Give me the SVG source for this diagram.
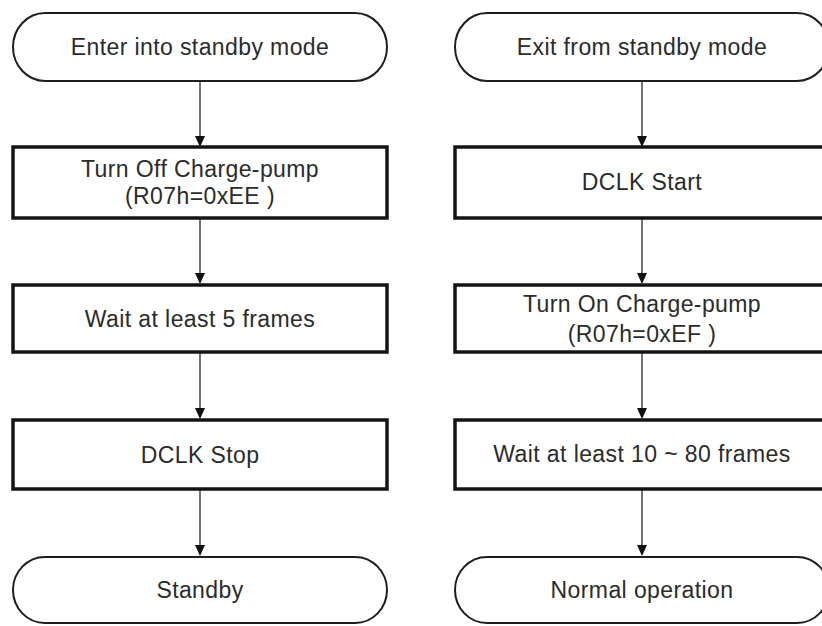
<svg xmlns="http://www.w3.org/2000/svg" width="822" height="626" viewBox="0 0 822 626">
  <style>
    .term { fill: #ffffff; stroke: #1e1e1e; stroke-width: 2; }
    .box { fill: #ffffff; stroke: #141414; stroke-width: 3.5; }
    .conn { stroke: #2a2a2a; stroke-width: 1.3; fill: none; }
    .head { fill: #111111; }
    .lbl { font-family: "Liberation Sans", Arial, sans-serif; font-size: 23px; letter-spacing: 0.4px; fill: #2b2b2b; text-anchor: middle; }
  </style>
  <defs>
    <path id="head" class="head" d="M-5,-11 L5,-11 L0,0 Z"/>
  </defs>
  <rect width="822" height="626" fill="#ffffff"/>

  <!-- connectors: vertical lines with arrowheads at the lower node -->
  <g id="connectors">
    <path class="conn" d="M200,81 V140 M200,218 V278 M200,352 V412 M200,489 V550"/>
    <path class="conn" d="M642,81 V140 M642,218 V278 M642,352 V412 M642,489 V550"/>
    <use href="#head" x="200" y="147"/>
    <use href="#head" x="200" y="284"/>
    <use href="#head" x="200" y="419"/>
    <use href="#head" x="200" y="556"/>
    <use href="#head" x="642" y="147"/>
    <use href="#head" x="642" y="284"/>
    <use href="#head" x="642" y="419"/>
    <use href="#head" x="642" y="556"/>
  </g>

  <!-- left flow: entering standby -->
  <g id="enter-standby">
    <rect class="term" x="13" y="13" width="374" height="68" rx="32" ry="34"/>
    <text class="lbl" x="200" y="55">Enter into standby mode</text>
  </g>
  <g id="charge-pump-off">
    <rect class="box" x="13" y="147" width="374" height="71"/>
    <text class="lbl" x="200" y="177">Turn Off Charge-pump</text>
    <text class="lbl" x="200" y="204">(R07h=0xEE )</text>
  </g>
  <g id="wait-5">
    <rect class="box" x="13" y="285" width="374" height="67"/>
    <text class="lbl" x="200" y="327">Wait at least 5 frames</text>
  </g>
  <g id="dclk-stop">
    <rect class="box" x="13" y="420" width="374" height="69"/>
    <text class="lbl" x="200" y="463">DCLK Stop</text>
  </g>
  <g id="standby">
    <rect class="term" x="13" y="557" width="374" height="66" rx="32" ry="33"/>
    <text class="lbl" x="200" y="598">Standby</text>
  </g>

  <!-- right flow: leaving standby -->
  <g id="exit-standby">
    <rect class="term" x="455" y="13" width="374" height="68" rx="32" ry="34"/>
    <text class="lbl" x="642" y="55">Exit from standby mode</text>
  </g>
  <g id="dclk-start">
    <rect class="box" x="455" y="147" width="374" height="71"/>
    <text class="lbl" x="642" y="190">DCLK Start</text>
  </g>
  <g id="charge-pump-on">
    <rect class="box" x="455" y="285" width="374" height="67"/>
    <text class="lbl" x="642" y="312">Turn On Charge-pump</text>
    <text class="lbl" x="642" y="342">(R07h=0xEF )</text>
  </g>
  <g id="wait-10-80">
    <rect class="box" x="455" y="420" width="374" height="69"/>
    <text class="lbl" x="642" y="462">Wait at least 10 ~ 80 frames</text>
  </g>
  <g id="normal-operation">
    <rect class="term" x="455" y="557" width="374" height="66" rx="32" ry="33"/>
    <text class="lbl" x="642" y="598">Normal operation</text>
  </g>
</svg>
